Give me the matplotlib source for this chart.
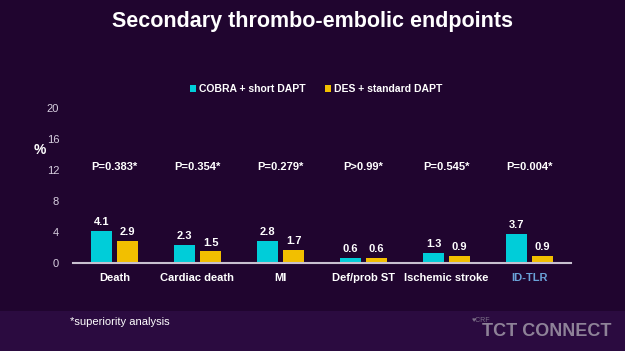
import matplotlib.pyplot as plt
from matplotlib.patches import Rectangle

plt.rcParams['font.family'] = ['Liberation Sans', 'DejaVu Sans']

categories = ["Death", "Cardiac death", "MI", "Def/prob ST", "Ischemic stroke", "ID-TLR"]
cobra = [4.1, 2.3, 2.8, 0.6, 1.3, 3.7]
des = [2.9, 1.5, 1.7, 0.6, 0.9, 0.9]
p_values = ["P=0.383*", "P=0.354*", "P=0.279*", "P>0.99*", "P=0.545*", "P=0.004*"]
y_ticks = [0, 4, 8, 12, 16, 20]

bg = "#20052f"
cyan = "#00cdd9"
gold = "#f2bf00"

fig = plt.figure(figsize=(6.25, 3.51), dpi=100, facecolor=bg)
# lighter band at the bottom of the slide
fig.patches.append(Rectangle((0, 0), 1, 40 / 351, transform=fig.transFigure,
                             facecolor="#2b0b40", edgecolor="none", zorder=0))

ax = fig.add_axes([73 / 625, 88 / 351, 498 / 625, 155 / 351])
ax.set_facecolor("none")

x = list(range(len(categories)))
w = 0.25
off = 0.157
ax.bar([i - off for i in x], cobra, width=w, color=cyan, label="COBRA + short DAPT", zorder=2)
ax.bar([i + off for i in x], des, width=w, color=gold, label="DES + standard DAPT", zorder=2)

for i in x:
    ax.text(i - off, cobra[i] + 0.5, f"{cobra[i]:.1f}", ha="center", va="bottom",
            color="white", fontsize=8, fontweight="bold")
    ax.text(i + off, des[i] + 0.5, f"{des[i]:.1f}", ha="center", va="bottom",
            color="white", fontsize=8, fontweight="bold")
    ax.text(i, 12.4, p_values[i], ha="center", va="center",
            color="white", fontsize=8, fontweight="bold")

ax.set_xlim(-0.5, len(categories) - 0.5)
ax.set_ylim(0, 20)
ax.set_yticks(y_ticks)
ax.set_xticks(x)
ax.set_xticklabels(categories, fontsize=8, fontweight="bold", color="white")
ax.get_xticklabels()[-1].set_color("#6aa2d8")
ax.tick_params(axis="x", length=0, pad=7)
ax.tick_params(axis="y", length=0, pad=10, labelsize=8, labelcolor="#d8d0e0")
for s in ["top", "right", "left"]:
    ax.spines[s].set_visible(False)
ax.spines["bottom"].set_color("#c8c0d0")
ax.spines["bottom"].set_linewidth(1.5)

fig.text(40 / 625, 1 - 150 / 351, "%", color="white", fontsize=10,
         fontweight="bold", ha="center", va="center")

fig.text(313 / 625, 1 - 22 / 351, "Secondary thrombo-embolic endpoints", color="white",
         fontsize=15.5, fontweight="bold", ha="center", va="center")

leg = fig.legend(loc="center", bbox_to_anchor=(316 / 625, 1 - 89 / 351), ncol=2,
                 frameon=False, fontsize=7.5, handlelength=0.6, handleheight=0.6,
                 handletextpad=0.3, columnspacing=1.8)
for t in leg.get_texts():
    t.set_color("white")
    t.set_fontweight("bold")

fig.text(70 / 625, 1 - 322 / 351, "*superiority analysis", color="white",
         fontsize=8, ha="left", va="center")

fig.text(612 / 625, 1 - 331 / 351, "TCT CONNECT", color="#8e8298",
         fontsize=13, fontweight="bold", ha="right", va="center")
fig.text(472 / 625, 1 - 320 / 351, "\u2665CRF", color="#7a6e86",
         fontsize=5, ha="left", va="center")

fig.savefig("out.png", dpi=100, facecolor=bg)
